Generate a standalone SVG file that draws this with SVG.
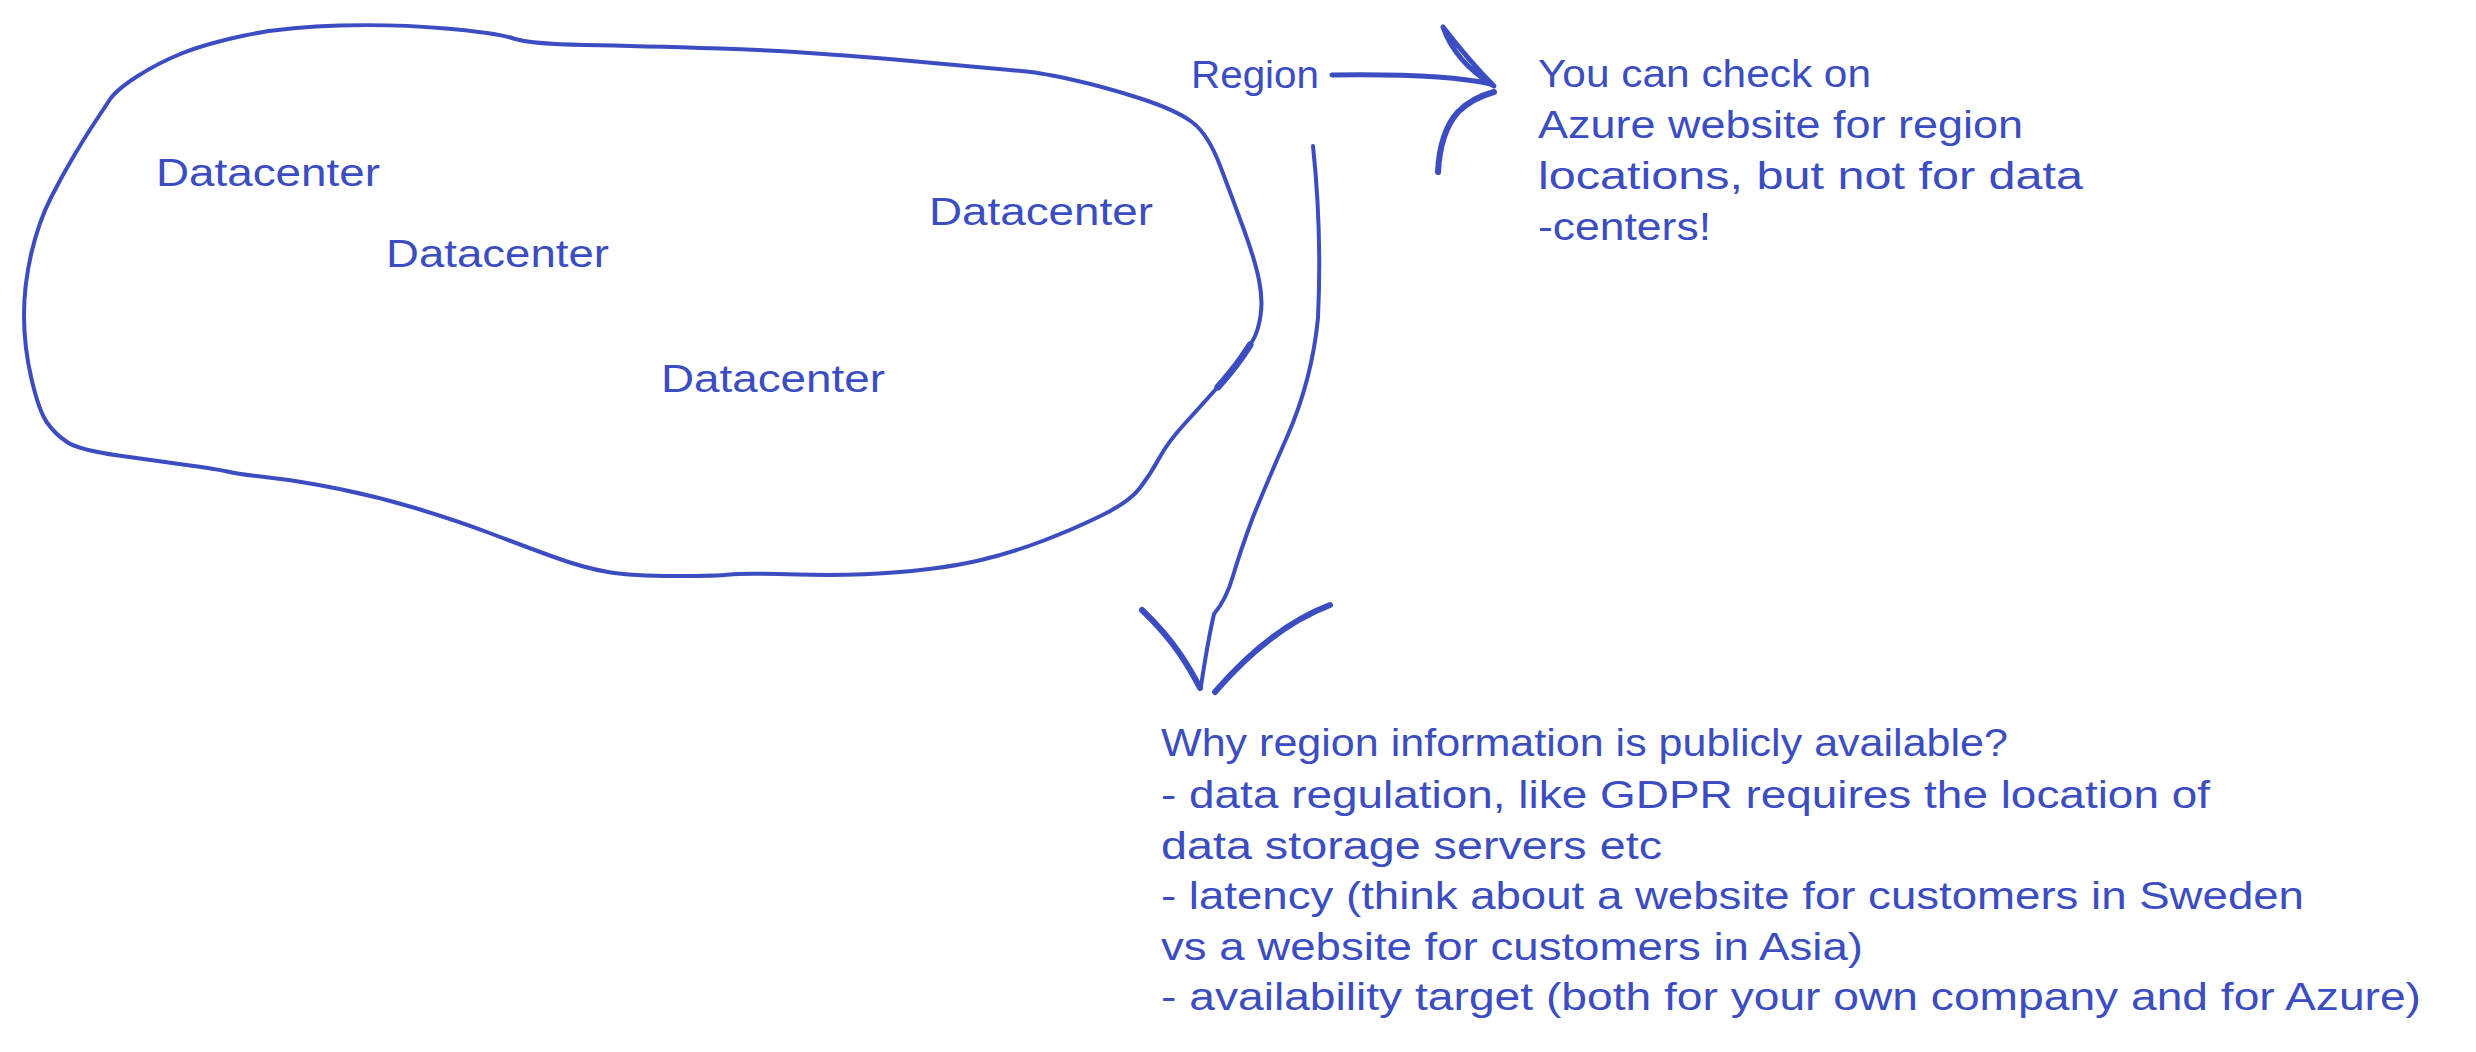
<svg xmlns="http://www.w3.org/2000/svg" width="2476" height="1052" viewBox="0 0 2476 1052">
<style>
.ink{fill:none;stroke:#3b4dc0;stroke-linecap:round;stroke-linejoin:round}
.t{font-family:"Liberation Sans","DejaVu Sans",sans-serif;font-size:38px;fill:#3b4dc0}
</style>
<rect width="2476" height="1052" fill="#ffffff"/>
<g id="region-area">
<path class="ink" stroke-width="4" d="M 446 28.5 Q 497 33 513.5 38.5 Q 530 44 585 45 Q 640 46 720 48.5 Q 800 51 905.5 60.5 Q 1011 70 1026.5 71.5 Q 1042 73 1073.5 80 Q 1105 87 1140.5 98.5 Q 1176 110 1192 122 Q 1208 134 1220 165.5 Q 1232 197 1243.5 228.5 Q 1255 260 1259 280 Q 1263 300 1260.5 316 Q 1258 332 1252.5 341 Q 1247 350 1239.5 360.5 Q 1232 371 1216 389 Q 1200 407 1184 424.5 Q 1168 442 1159 458.5 Q 1150 475 1139.5 488.5 Q 1129 502 1101.5 515.5 Q 1074 529 1042.5 541 Q 1011 553 979 560.5 Q 947 568 900 572 Q 853 576 797.5 574.5 Q 742 573 730 574.5 Q 718 576 675 576 Q 632 576 608 572 Q 584 568 552.5 556.5 Q 521 545 489.5 533 Q 458 521 418.5 509 Q 379 497 339.5 489 Q 300 481 268.5 477.5 Q 237 474 229.5 472 Q 222 470 190 465.5 Q 158 461 118.5 455.5 Q 79 450 67 442 Q 55 434 47 422.5 Q 39 411 31.5 379 Q 24 347 24 315.5 Q 24 284 31.5 252.5 Q 39 221 51 197.5 Q 63 174 75 154 Q 87 134 95 122 Q 103 110 109.5 100 Q 116 90 137 76.5 Q 158 63 181.5 53.5 Q 205 44 244.5 35.5 Q 284 27 339.5 25.5 Q 395 24 446 28.5 Z"/>
<path class="ink" stroke-width="7" d="M 1250 345 Q 1247 350 1239.5 360.5 Q 1232 371 1218 387"/>
</g>
<g id="dc1"><text class="t" x="156" y="186" textLength="224" lengthAdjust="spacingAndGlyphs">Datacenter</text></g>
<g id="dc2"><text class="t" x="386" y="267" textLength="223" lengthAdjust="spacingAndGlyphs">Datacenter</text></g>
<g id="dc3"><text class="t" x="929" y="225" textLength="224" lengthAdjust="spacingAndGlyphs">Datacenter</text></g>
<g id="dc4"><text class="t" x="661" y="392" textLength="224" lengthAdjust="spacingAndGlyphs">Datacenter</text></g>
<g id="region-label"><text class="t" x="1191" y="88" textLength="128" lengthAdjust="spacingAndGlyphs">Region</text></g>
<g id="note-azure">
<text class="t" x="1538" y="87" textLength="333" lengthAdjust="spacingAndGlyphs">You can check on</text>
<text class="t" x="1538" y="138" textLength="485" lengthAdjust="spacingAndGlyphs">Azure website for region</text>
<text class="t" x="1538" y="189" textLength="545" lengthAdjust="spacingAndGlyphs">locations, but not for data</text>
<text class="t" x="1538" y="240" textLength="173" lengthAdjust="spacingAndGlyphs">-centers!</text>
</g>
<g id="note-why">
<text class="t" x="1161" y="756" textLength="847" lengthAdjust="spacingAndGlyphs">Why region information is publicly available?</text>
<text class="t" x="1161" y="808" textLength="1049" lengthAdjust="spacingAndGlyphs">- data regulation, like GDPR requires the location of</text>
<text class="t" x="1161" y="859" textLength="501" lengthAdjust="spacingAndGlyphs">data storage servers etc</text>
<text class="t" x="1161" y="909" textLength="1143" lengthAdjust="spacingAndGlyphs">- latency (think about a website for customers in Sweden</text>
<text class="t" x="1161" y="960" textLength="702" lengthAdjust="spacingAndGlyphs">vs a website for customers in Asia)</text>
<text class="t" x="1161" y="1010" textLength="1260" lengthAdjust="spacingAndGlyphs">- availability target (both for your own company and for Azure)</text>
</g>
<g id="connectors">
<path class="ink" stroke-width="5" d="M 1332 75 C 1400 74 1455 76 1491 84"/>
<path class="ink" stroke-width="5" d="M 1443 27 Q 1455 62 1494 86 Q 1470 62 1443 27"/>
<path class="ink" stroke-width="6" d="M 1494 92 Q 1472 98 1458 112 Q 1440 132 1438 172"/>
<path class="ink" stroke-width="4" d="M 1313 146 Q 1322 230 1318 318 Q 1312 380 1287 437 Q 1268 480 1253 517 Q 1240 552 1233 576 Q 1226 600 1214 614 Q 1208 640 1201 686"/>
<path class="ink" stroke-width="6" d="M 1142 610 Q 1165 632 1180 654 Q 1192 672 1200 688"/>
<path class="ink" stroke-width="6" d="M 1330 605 Q 1270 628 1215 692"/>
</g>
</svg>
